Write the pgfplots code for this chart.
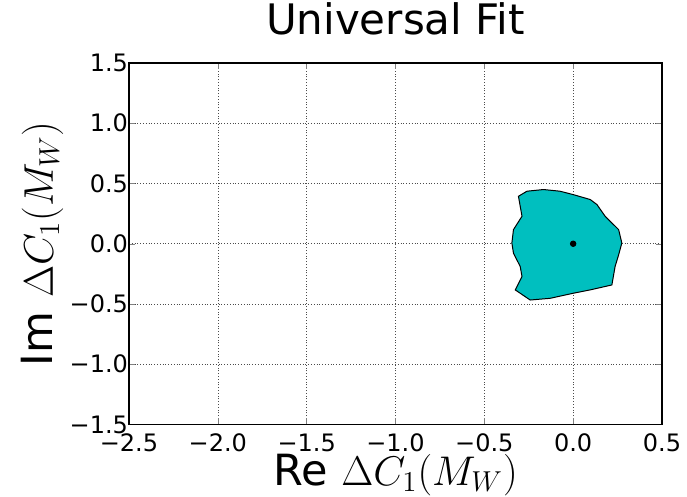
\documentclass[border=0pt]{standalone}
\usepackage{fontspec}
\setmainfont{DejaVu Sans}
\usepackage{pgfplots}
\pgfplotsset{compat=1.18}
\definecolor{mplc}{rgb}{0,0.75,0.75}
\begin{document}
\begin{tikzpicture}
\begin{axis}[
  scale only axis,
  width=266.5pt, height=180.75pt,
  xmin=-2.5, xmax=0.5, ymin=-1.5, ymax=1.5,
  xtick={-2.5,-2,-1.5,-1,-0.5,0,0.5},
  xticklabels={−2.5,−2.0,−1.5,−1.0,−0.5,0.0,0.5},
  ytick={-1.5,-1,-0.5,0,0.5,1,1.5},
  yticklabels={−1.5,−1.0,−0.5,0.0,0.5,1.0,1.5},
  tick label style={font=\fontsize{12}{14}\selectfont},
  xticklabel style={yshift=-1pt},
  yticklabel style={xshift=3pt},
  tick align=inside,
  major tick length=3pt,
  grid=major,
  grid style={black!70, densely dotted, line width=0.3pt},
  axis line style={line width=0.6pt},
  title={Universal Fit},
  title style={font=\fontsize{21}{24}\selectfont, at={(axis description cs:0.5,1)}, anchor=base, yshift=8pt},
  xlabel={Re $\Delta C_1(M_W)$},
  ylabel={Im $\Delta C_1(M_W)$},
  label style={font=\fontsize{21.5}{24}\selectfont},
  xlabel style={at={(axis description cs:0.5,0)}, anchor=base, yshift=-30.5pt},
  ylabel style={at={(axis description cs:0,0.5)}, anchor=base, yshift=38pt},
]
\addplot[fill=mplc, draw=black, line width=0.5pt] coordinates {
(-0.308,0.394) (-0.260,0.436) (-0.167,0.45) (-0.074,0.436) (0.0,0.408)
(0.096,0.367) (0.134,0.325) (0.180,0.228) (0.256,0.117) (0.274,0.006)
(0.256,-0.092) (0.236,-0.189) (0.218,-0.342) (0.096,-0.383) (0.0,-0.411)
(-0.130,-0.453) (-0.242,-0.467) (-0.326,-0.383) (-0.288,-0.272) (-0.298,-0.189)
(-0.336,-0.078) (-0.345,0.006) (-0.336,0.117) (-0.288,0.228) (-0.298,0.311)
} -- cycle;
\addplot[only marks, mark=*, mark size=1.4pt, black] coordinates {(0,0)};
\end{axis}
\pgfresetboundingbox
\path (-64.5pt,-36.25pt) rectangle (279pt,212.25pt);
\end{tikzpicture}
\end{document}
